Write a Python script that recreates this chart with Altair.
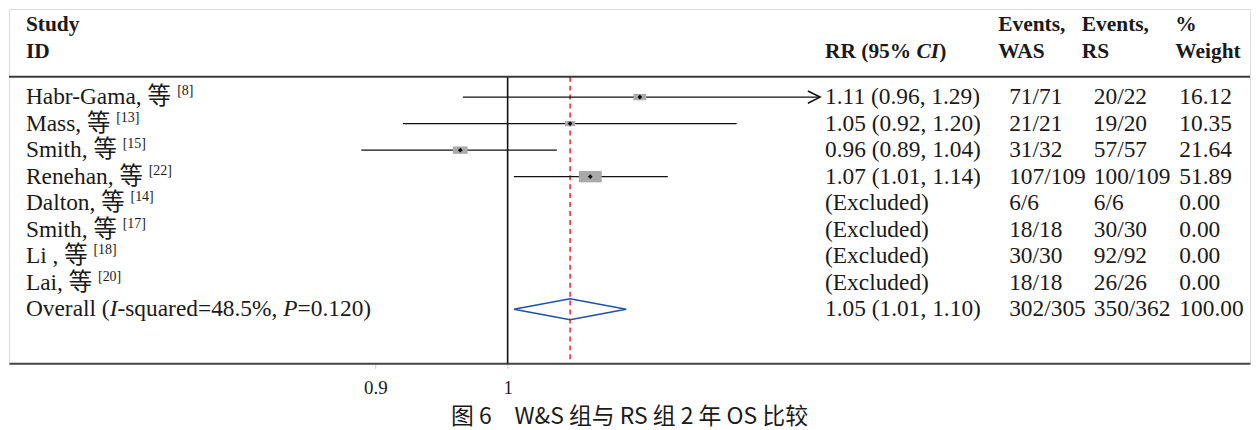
import altair as alt
import pandas as pd

# ---------------- data ----------------
studies = ["Habr-Gama", "Mass", "Smith", "Renehan", "Dalton", "Smith", "Li ", "Lai"]
refs = ["[8]", "[13]", "[15]", "[22]", "[14]", "[17]", "[18]", "[20]"]
rr_text = ["1.11 (0.96, 1.29)", "1.05 (0.92, 1.20)", "0.96 (0.89, 1.04)",
           "1.07 (1.01, 1.14)", "(Excluded)", "(Excluded)", "(Excluded)", "(Excluded)"]
events_was = ["71/71", "21/21", "31/32", "107/109", "6/6", "18/18", "30/30", "18/18"]
events_rs = ["20/22", "19/20", "57/57", "100/109", "6/6", "30/30", "92/92", "26/26"]
weights = [16.12, 10.35, 21.64, 51.89, 0.00, 0.00, 0.00, 0.00]

# estimates drawn (only non-excluded studies)
est = [1.111, 1.051, 0.963, 1.068]
ci_lo = [0.965, 0.92, 0.89, 1.005]
ci_hi = [1.29, 1.20, 1.04, 1.136]

overall_label_parts = ["Overall (", "I", "-squared=48.5%, ", "P", "=0.120)"]
overall_rr = "1.05 (1.01, 1.10)"
overall_was = "302/305"
overall_rs = "350/362"
overall_weight = 100.00
overall_est, overall_lo, overall_hi = 1.051, 1.005, 1.099

tick_values = [0.9, 1]
caption = "图 6　W&S 组与 RS 组 2 年 OS 比较"

# ---------------- layout ----------------
W, H = 1247, 356
SERIF = "Liberation Serif, Noto Sans CJK SC"
FS = 23.5
HFS = 21.5
INK = "#1a1a1a"
XDOM = [0.67236, 1.8058]      # log scale over the full width
XCLIP = 1.2824                # right limit of the forest-plot region
YDOM = [-3.321, 10.038]
LEFT = 17
COL_RR, COL_WAS, COL_RS, COL_W = 820, 1005, 1090, 1176
HCOL_WAS, HCOL_RS, HCOL_W = 994, 1078, 1172

TNR = {' ': 250, '(': 333, ')': 333, ',': 250, '-': 333, '.': 250, '/': 278, '=': 564,
       '%': 833, '[': 333, ']': 333, '等': 1000,
       'A': 722, 'B': 667, 'C': 667, 'D': 722, 'E': 611, 'F': 556, 'G': 722, 'H': 722,
       'I': 333, 'L': 611, 'M': 889, 'O': 722, 'P': 556, 'R': 667, 'S': 556,
       'a': 444, 'b': 500, 'c': 444, 'd': 500, 'e': 444, 'g': 500, 'h': 500, 'i': 278,
       'l': 278, 'm': 778, 'n': 500, 'o': 500, 'p': 500, 'q': 500, 'r': 333, 's': 389,
       't': 278, 'u': 500, 'v': 500, 'y': 500}
TNR_I = {'I': 333, 'P': 611}
TNR_B = {' ': 250, '(': 333, ')': 333, '%': 1000, 'R': 722}
TNR_BI = {'C': 667, 'I': 389}


def tw(s, size, table=TNR):
    return sum(table.get(c, 500) for c in s) / 1000.0 * size


n = len(studies)
rows = pd.DataFrame({
    "row": list(range(n)) + [n],
    "label": [s + ", 等" for s in studies] + [""],
    "ref": refs + [""],
    "rr": rr_text + [overall_rr],
    "was": events_was + [overall_was],
    "rs": events_rs + [overall_rs],
    "weight": ["%.2f" % w for w in weights] + ["%.2f" % overall_weight],
})

forest = pd.DataFrame({
    "row": list(range(len(est))),
    "est": est, "lo": ci_lo, "hi": ci_hi, "w": weights[:len(est)],
})

diamond_half = 0.394
diamond = pd.DataFrame({
    "x": [overall_lo, overall_est, overall_hi, overall_est, overall_lo],
    "y": [n, n - diamond_half, n, n + diamond_half, n],
    "o": [0, 1, 2, 3, 4],
})

xs = alt.Scale(type="log", domain=XDOM, nice=False)
ys = alt.Scale(domain=YDOM, reverse=True)
xaxis = alt.Axis(values=tick_values, format="~g", grid=False, title=None,
                 domainColor="#444444", domainWidth=2, tickColor="#cccccc", tickSize=5,
                 labelFont="Liberation Serif", labelFontSize=19, labelColor=INK,
                 labelPadding=10)

base_f = alt.Chart(forest).transform_calculate(
    hid=f"min(datum.hi, {XCLIP})"
)

ref_line = alt.Chart(pd.DataFrame({"v": [1]})).mark_rule(color="#111111", strokeWidth=1.6).encode(
    x=alt.X("v:Q", scale=xs, axis=xaxis), y=alt.value(68), y2=alt.value(H))

overall_line = alt.Chart(pd.DataFrame({"v": [overall_est]})).mark_rule(
    color="#e8333a", strokeWidth=1.6, strokeDash=[5, 4]).encode(
    x=alt.X("v:Q", scale=xs), y=alt.value(68), y2=alt.value(H))

header_line = alt.Chart(pd.DataFrame({"v": [0]})).mark_rule(color="#3a3a3a", strokeWidth=2).encode(
    x=alt.value(0), x2=alt.value(W), y=alt.value(68))

ci = base_f.mark_rule(color="#111111", strokeWidth=1.4).encode(
    x=alt.X("lo:Q", scale=xs), x2="hid:Q", y=alt.Y("row:Q", scale=ys, axis=None))

arrow = base_f.transform_filter(f"datum.hi > {XCLIP}").mark_point(
    shape="M-2,-1L0,0L-2,1", filled=False, color="#111111", strokeWidth=1.6,
    size=150, opacity=1).encode(
    x=alt.X("hid:Q", scale=xs), y=alt.Y("row:Q", scale=ys))

boxes = base_f.mark_point(shape="M-1,-0.5L1,-0.5L1,0.5L-1,0.5Z", filled=True,
                          color="#a9a9a9", opacity=1).encode(
    x=alt.X("est:Q", scale=xs), y=alt.Y("row:Q", scale=ys),
    size=alt.Size("w:Q", scale=alt.Scale(type="linear", domain=[0, 100], range=[0, 1020]),
                  legend=None))

dots = base_f.mark_point(shape="diamond", filled=True, color="#000000", size=22, opacity=1).encode(
    x=alt.X("est:Q", scale=xs), y=alt.Y("row:Q", scale=ys))

dia = alt.Chart(diamond).mark_line(color="#2150a5", strokeWidth=1.5).encode(
    x=alt.X("x:Q", scale=xs), y=alt.Y("y:Q", scale=ys), order="o:Q")


def col_text(field, xpx, data=rows):
    return alt.Chart(data).mark_text(align="left", baseline="middle", font=SERIF,
                                     fontSize=FS, color=INK).encode(
        x=alt.value(xpx), y=alt.Y("row:Q", scale=ys), text=f"{field}:N")

labels = col_text("label", LEFT, rows[rows["row"] < n])
rr_col = col_text("rr", COL_RR)
was_col = col_text("was", COL_WAS)
rs_col = col_text("rs", COL_RS)
w_col = col_text("weight", COL_W)

sup_layers = []
for i, s in enumerate(studies):
    sx = LEFT + tw(s + ", 等 ", FS)
    sup_layers.append(
        alt.Chart(rows).transform_filter(f"datum.row == {i}").mark_text(
            align="left", baseline="middle", font=SERIF, fontSize=14, color=INK, dy=-6).encode(
            x=alt.value(sx), y=alt.Y("row:Q", scale=ys), text="ref:N"))

overall_layers = []
ox = LEFT
for k, part in enumerate(overall_label_parts):
    italic = k in (1, 3)
    overall_layers.append(
        alt.Chart(pd.DataFrame({"row": [n], "t": [part]})).mark_text(
            align="left", baseline="middle", font=SERIF, fontSize=FS, color=INK,
            fontStyle="italic" if italic else "normal").encode(
            x=alt.value(ox), y=alt.Y("row:Q", scale=ys), text="t:N"))
    ox += tw(part, FS, TNR_I if italic else TNR)


def header(t, xpx, ypx, style="normal"):
    return alt.Chart(pd.DataFrame({"t": [t]})).mark_text(
        align="left", baseline="middle", font="Liberation Serif", fontSize=HFS,
        fontWeight="bold", fontStyle=style, color=INK).encode(
        x=alt.value(xpx), y=alt.value(ypx), text="t:N")

Y1, Y2 = 16, 43
hx = COL_RR
h_rr = [header("RR (95% ", hx, Y2)]
hx += tw("RR (95% ", HFS, TNR_B)
h_rr.append(header("CI", hx, Y2, "italic"))
hx += tw("CI", HFS, TNR_BI)
h_rr.append(header(")", hx, Y2))

headers = [header("Study", LEFT, Y1), header("ID", LEFT, Y2),
           header("Events,", HCOL_WAS, Y1), header("WAS", HCOL_WAS, Y2),
           header("Events,", HCOL_RS, Y1), header("RS", HCOL_RS, Y2),
           header("%", HCOL_W, Y1), header("Weight", HCOL_W, Y2)] + h_rr

chart = alt.layer(
    ref_line, overall_line, header_line, ci, arrow, boxes, dots, dia,
    labels, rr_col, was_col, rs_col, w_col, *sup_layers, *overall_layers, *headers
).properties(
    width=W, height=H, padding=0,
    title=alt.TitleParams(text=caption, orient="bottom", anchor="middle",
                          font="Noto Sans CJK SC", fontSize=23, fontWeight="normal",
                          color=INK, offset=9)
).configure_view(stroke=None).configure(background="white")

chart.save("out.html", embed_options={"renderer": "svg", "actions": False})
